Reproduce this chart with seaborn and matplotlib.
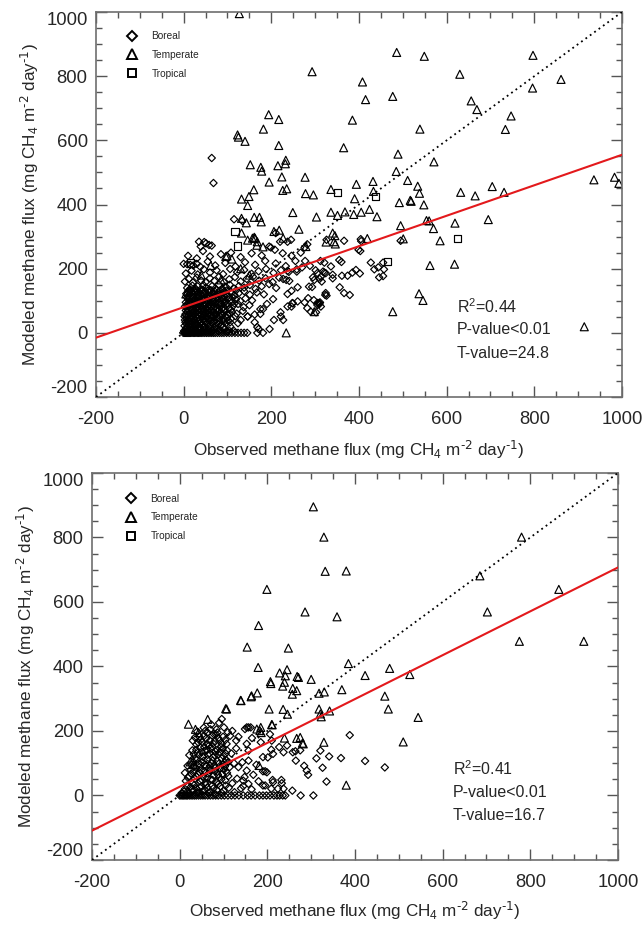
import numpy as np
import pandas as pd
import matplotlib
matplotlib.use("Agg")
import matplotlib.pyplot as plt
import seaborn as sns
from matplotlib.ticker import MultipleLocator
from matplotlib.lines import Line2D

sns.set_theme(style="white")
plt.rcParams["font.family"] = ["Liberation Sans", "DejaVu Sans"]
plt.rcParams["mathtext.default"] = "regular"
plt.rcParams["axes.unicode_minus"] = False

# ---------------- data (observed, modeled) ----------------
# Top panel
top_boreal = [
    # zero row
    (-1, 0), (2, 0), (4, 0), (6, 0), (8, 0), (10, 0), (12, 0), (14, 0), (16, 0), (19, 0), (22, 0), (25, 0),
    (28, 0), (31, 0), (34, 0), (37, 0), (40, 0), (44, 0), (48, 0), (52, 0), (56, 0), (60, 0), (64, 0),
    (68, 0), (72, 0), (77, 0), (82, 0), (87, 0), (92, 0), (98, 0), (104, 0), (110, 0), (117, 0), (124, 0),
    (131, 0), (138, 0), (145, 0), (168, 0), (181, 0),
    (1, 6), (5, 12), (9, 8), (13, 14), (18, 9), (23, 13), (28, 7), (33, 11), (38, 15), (44, 9), (50, 13),
    (56, 8), (62, 12), (69, 10), (76, 14), (84, 9), (93, 12), (103, 8), (115, 6),
    (3, 3), (7, 17), (11, 5), (16, 19), (21, 4), (26, 17), (31, 5), (36, 19), (41, 4), (46, 16), (51, 5),
    (57, 18), (63, 4), (70, 17), (80, 5), (90, 18), (99, 4),
    (2, 22), (6, 28), (11, 24), (15, 30), (20, 21), (25, 27), (30, 23), (35, 29), (41, 25), (47, 20),
    (53, 28), (59, 24), (65, 30), (72, 22), (79, 27), (87, 25), (96, 29), (106, 33), (124, 30), (106, 20),
    (4, 33), (9, 38), (14, 27), (19, 34), (24, 43), (29, 31), (34, 36), (39, 33), (45, 43), (50, 35),
    (55, 33), (61, 37), (67, 35), (74, 32), (82, 37), (92, 34), (101, 38),
    (3, 40), (7, 47), (12, 36), (16, 44), (21, 49), (26, 38), (31, 45), (36, 41), (42, 50), (47, 37),
    (52, 46), (58, 42), (64, 48), (70, 39), (77, 45), (84, 50), (91, 41), (99, 47), (108, 44), (118, 52),
    (130, 40),
    (2, 51), (6, 53), (11, 55), (17, 52), (22, 62), (27, 52), (33, 56), (37, 63), (42, 58), (47, 54),
    (53, 52), (57, 62), (63, 55), (69, 52), (75, 58), (81, 54), (88, 57), (96, 52), (105, 59),
    (4, 58), (9, 65), (14, 60), (18, 68), (23, 55), (28, 63), (33, 70), (38, 57), (44, 66), (49, 61),
    (55, 69), (60, 56), (66, 64), (72, 58), (78, 67), (85, 62), (92, 70), (100, 56), (110, 65), (121, 60),
    (135, 68), (146, 51), (162, 57),
    (5, 70), (10, 72), (16, 74), (20, 73), (25, 70), (30, 78), (35, 74), (41, 72), (46, 73), (52, 75),
    (57, 86), (62, 70), (68, 76), (74, 72), (80, 70), (87, 74), (94, 75), (108, 72),
    (3, 82), (8, 77), (13, 88), (17, 80), (22, 86), (27, 76), (32, 84), (37, 90), (43, 78), (48, 87),
    (54, 81), (59, 75), (65, 89), (71, 83), (77, 77), (83, 88), (90, 80), (97, 86), (104, 76), (113, 84),
    (124, 90), (137, 80), (150, 86), (175, 74),
    (7, 88), (12, 92), (18, 92), (24, 89), (29, 92), (34, 94), (39, 84), (45, 91), (50, 92), (56, 93),
    (62, 84), (67, 96), (73, 92), (79, 88), (86, 92), (93, 93), (100, 92), (116, 92),
    (5, 95), (10, 103), (15, 98), (20, 107), (25, 94), (30, 101), (35, 109), (40, 96), (46, 104), (51, 99),
    (57, 108), (63, 95), (69, 103), (75, 110), (81, 97), (88, 105), (95, 100), (102, 108), (110, 96),
    (119, 104), (129, 99), (141, 107), (156, 101), (190, 90), (204, 105),
    (8, 110), (13, 109), (19, 113), (24, 110), (30, 112), (36, 103), (42, 112), (48, 110), (54, 112),
    (60, 114), (66, 109), (72, 115), (79, 112), (86, 110), (93, 113), (100, 114), (112, 110),
    (6, 122), (11, 116), (17, 127), (22, 119), (28, 125), (34, 116), (40, 129), (46, 121), (52, 115),
    (58, 126), (64, 118), (70, 130), (77, 122), (84, 116), (91, 127), (99, 120), (107, 129), (116, 117),
    (126, 124), (138, 130), (151, 119), (167, 126), (183, 120),
    (10, 130), (16, 133), (23, 131), (30, 132), (36, 126), (43, 134), (49, 130), (55, 131), (62, 133),
    (68, 124), (75, 133), (82, 131), (90, 134), (98, 132), (110, 125), (120, 133),
    (8, 140), (14, 136), (20, 147), (26, 139), (32, 145), (39, 136), (45, 149), (51, 141), (58, 135),
    (65, 146), (72, 139), (80, 150), (88, 137), (96, 144), (105, 150), (115, 138), (126, 146), (138, 141),
    (151, 149), (164, 137), (178, 145), (195, 152), (211, 140),
    (3, 160), (12, 168), (21, 157), (30, 172), (40, 163), (50, 158), (60, 170), (70, 162), (81, 175),
    (92, 158), (104, 167), (117, 174), (130, 160), (144, 168), (158, 175), (172, 163), (187, 170),
    (203, 158), (218, 172), (234, 165),
    (5, 185), (18, 194), (32, 182), (46, 198), (60, 188), (75, 195), (90, 183), (106, 199), (122, 189),
    (138, 196), (155, 184), (171, 192), (188, 199), (205, 187), (222, 195), (240, 190), (258, 198),
    (0, 215), (8, 214), (15, 212), (22, 210), (30, 215), (38, 206), (55, 222), (72, 210), (95, 218),
    (118, 207), (140, 220), (163, 212), (186, 224), (210, 216), (233, 208), (255, 224), (277, 224),
    (10, 240), (30, 232), (44, 255), (60, 238), (85, 245), (108, 250), (130, 236), (155, 248), (178, 241),
    (199, 266), (226, 248), (246, 240), (267, 250),
    (35, 284), (39, 269), (47, 283), (51, 279), (58, 274), (64, 272), (115, 354), (134, 349), (195, 269),
    (208, 259), (210, 311), (220, 284), (237, 284), (245, 290), (276, 266), (282, 276),
    (64, 545), (68, 467),
    (221, 64), (227, 40), (246, 82), (249, 92), (276, 95), (282, 77), (284, 108), (297, 102), (305, 87),
    (311, 95), (293, 143), (295, 173), (310, 168), (301, 195), (326, 116), (321, 188), (312, 224),
    (196, 12), (171, 12), (168, 18), (162, 33), (175, 59), (181, 74), (222, 51), (206, 40), (146, 51),
    (237, 121), (246, 131), (260, 142), (241, 162), (227, 168), (237, 193), (258, 191), (270, 204),
    (288, 209), (286, 144), (298, 165), (313, 175), (324, 186), (336, 207), (305, 186), (324, 124),
    (305, 93), (290, 66), (237, 82), (248, 93), (260, 98), (302, 64), (310, 90),
    (326, 290), (366, 287), (404, 292), (399, 259), (355, 227), (321, 219), (318, 191), (340, 181),
    (340, 170), (315, 160), (361, 178), (374, 178), (385, 188), (393, 196), (402, 185), (427, 219),
    (435, 198), (444, 204), (455, 219), (457, 198), (446, 173), (455, 177), (356, 142), (366, 124),
    (379, 118), (323, 118), (309, 93), (313, 82), (495, 287), (405, 286), (403, 255), (360, 221),
]
top_temperate = [
    (127, 995), (486, 874), (549, 862), (797, 865), (293, 814), (630, 806), (408, 782), (861, 790),
    (415, 727), (477, 737), (796, 763), (656, 723), (669, 696), (747, 676), (385, 663), (194, 680),
    (217, 665), (539, 635), (734, 634), (182, 635), (123, 617), (125, 610), (140, 597), (217, 584),
    (365, 577), (489, 557), (571, 533), (152, 524), (176, 516), (178, 504), (215, 521), (233, 538),
    (232, 527), (224, 486), (485, 503), (277, 485), (195, 470), (511, 475), (432, 472), (394, 463),
    (160, 446), (235, 449), (226, 444), (278, 434), (296, 430), (336, 447), (534, 457),
    (538, 435), (632, 438), (665, 427), (704, 456), (731, 438), (936, 477), (983, 485), (993, 466),
    (433, 441), (390, 418), (492, 406), (517, 413), (519, 410), (548, 399), (132, 417), (149, 425),
    (146, 397), (161, 360), (173, 360), (143, 343), (132, 357), (177, 346), (249, 375), (336, 376),
    (303, 361), (351, 366), (368, 377), (405, 376), (424, 385), (441, 362), (388, 369), (560, 349),
    (570, 325), (619, 342), (695, 353), (495, 334), (585, 287), (419, 294), (501, 293), (263, 323),
    (218, 320), (227, 295), (345, 303), (325, 283), (346, 277), (132, 311), (161, 298), (163, 295),
    (146, 289), (167, 273), (181, 268), (279, 269), (562, 210), (618, 214), (537, 122), (546, 101),
    (477, 66), (914, 19), (234, 0), (99, 240), (5, 121), (14, 93), (9, 129), (24, 134), (96, 238),
    (157, 295), (168, 284), (206, 316), (340, 311), (343, 284), (298, 66), (110, 230), (62, 210),
    (40, 180), (130, 200), (85, 165), (150, 180), (554, 350),
]
top_tropical = [(117, 315), (123, 271), (351, 438), (438, 425), (465, 222), (625, 295), (15, 218)]

# Bottom panel
bottom_boreal = [
    (0, 0), (3, 0), (6, 0), (9, 0), (12, 0), (15, 0), (18, 0), (22, 0), (26, 0), (30, 0), (34, 0), (38, 0),
    (43, 0), (48, 0), (53, 0), (58, 0), (64, 0), (70, 0), (76, 0), (82, 0), (88, 0), (95, 0), (102, 0),
    (110, 0), (118, 0), (126, 0), (135, 0), (145, 0), (155, 0), (163, 0), (172, 0), (182, 0), (190, 0),
    (198, 0), (206, 0), (215, 0), (222, 0), (228, 0), (235, 0), (241, 0), (276, 0), (305, 0),
    (5, 8), (12, 20), (18, 12), (25, 26), (31, 15), (38, 22), (44, 9), (50, 28), (57, 18), (63, 25),
    (70, 11), (77, 22), (85, 17), (93, 28), (100, 14), (112, 24), (125, 10), (140, 22), (164, 19),
    (157, 36), (145, 29),
    (10, 12), (16, 30), (21, 5), (28, 18), (33, 32), (40, 10), (46, 25), (52, 12), (60, 33), (66, 8),
    (74, 30), (81, 5), (88, 35), (96, 8), (105, 31),
    (14, 45), (22, 60), (29, 38), (35, 52), (41, 66), (47, 44), (53, 58), (59, 40), (65, 68), (71, 50),
    (78, 62), (84, 42), (90, 56), (97, 66), (104, 47), (111, 60), (120, 38), (131, 52), (145, 46),
    (148, 57), (168, 64), (180, 44), (212, 48), (209, 21), (213, 41), (195, 31), (190, 31), (224, 21),
    (232, 48), (233, 38), (237, 21),
    (12, 70), (19, 55), (26, 68), (33, 75), (39, 58), (45, 72), (51, 48), (57, 75), (63, 55), (69, 78),
    (75, 48), (81, 75), (87, 65), (95, 50), (101, 80), (108, 70),
    (18, 92), (25, 80), (31, 104), (37, 86), (43, 98), (49, 78), (55, 108), (61, 90), (67, 82), (73, 100),
    (79, 94), (86, 106), (92, 84), (99, 96), (106, 110), (114, 88), (124, 100), (134, 88), (143, 103),
    (153, 77), (157, 108), (175, 95), (195, 75), (199, 72), (190, 75), (201, 118),
    (27, 95), (33, 90), (39, 110), (45, 88), (51, 102), (57, 95), (63, 112), (69, 92), (75, 108), (81, 85),
    (89, 98), (96, 115), (103, 90), (111, 104),
    (22, 125), (29, 140), (35, 115), (41, 132), (47, 148), (53, 120), (58, 138), (64, 126), (70, 145),
    (76, 118), (82, 136), (88, 128), (94, 150), (100, 122), (108, 140), (118, 130), (129, 146), (157, 139),
    (190, 119), (213, 129), (209, 142), (227, 150), (237, 134), (265, 108), (258, 134), (264, 137),
    (32, 128), (38, 142), (44, 125), (50, 135), (56, 150), (62, 140), (68, 130), (74, 152), (80, 125),
    (86, 142), (92, 135), (98, 145), (105, 130),
    (30, 170), (38, 158), (45, 182), (52, 165), (60, 176), (67, 155), (74, 186), (81, 168), (88, 178),
    (96, 160), (104, 172), (115, 185), (129, 170), (134, 182), (153, 160), (165, 178), (185, 165),
    (206, 190),
    (35, 180), (42, 165), (48, 172), (56, 185), (62, 160), (69, 170), (76, 162), (83, 190), (91, 170),
    (99, 182), (107, 160), (58, 200), (70, 205), (86, 195),
    (40, 198), (55, 210), (64, 195), (72, 220), (84, 205), (96, 237), (101, 211), (110, 196), (153, 211),
    (162, 211), (120, 200), (78, 190), (90, 225), (149, 206), (157, 211),
    (388, 187), (423, 107), (468, 87), (368, 116), (341, 121), (321, 139), (312, 115), (326, 86),
    (335, 43), (284, 92), (293, 64), (290, 77), (257, 15), (210, 170), (245, 155), (275, 140),
]
bottom_temperate = [
    (305, 895), (329, 801), (780, 801), (332, 695), (380, 696), (685, 681), (199, 639), (865, 639),
    (286, 569), (702, 569), (359, 554), (180, 527), (154, 460), (248, 457), (775, 478), (922, 478),
    (179, 397), (385, 409), (479, 394), (423, 372), (525, 375), (245, 390), (228, 380), (241, 371),
    (207, 353), (208, 347), (268, 369), (271, 366), (235, 339), (239, 351), (258, 332), (267, 325),
    (257, 314), (300, 360), (139, 295), (163, 306), (177, 318), (330, 321), (318, 317), (370, 328),
    (468, 308), (204, 268), (236, 267), (318, 268), (321, 253), (323, 244), (342, 262), (476, 268),
    (544, 242), (246, 252), (185, 211), (186, 195), (211, 219), (239, 178), (267, 177), (280, 162),
    (329, 165), (510, 166), (380, 32), (105, 269), (64, 236), (20, 221), (36, 205), (43, 195),
    (24, 104), (31, 96), (181, 93), (107, 268), (164, 309), (140, 294), (102, 108), (96, 88),
    (176, 206), (183, 201), (210, 220), (275, 180), (282, 160),
]
bottom_tropical = []

fit_top = (80, 0.475)      # intercept, slope
fit_bottom = (27, 0.68)
stats_top = ["R$^2$=0.44", "P-value<0.01", "T-value=24.8"]
stats_bottom = ["R$^2$=0.41", "P-value<0.01", "T-value=16.7"]
biomes = ["Boreal", "Temperate", "Tropical"]
tick_values = [-200, 0, 200, 400, 600, 800, 1000]

markers = {"Boreal": "D", "Temperate": "^", "Tropical": "s"}
sizes = {"Boreal": 14, "Temperate": 33, "Tropical": 28}

fig = plt.figure(figsize=(6.43, 9.25), dpi=100)
ax1 = fig.add_axes([0.1493, 0.5708, 0.818, 0.4162])
ax2 = fig.add_axes([0.1431, 0.0703, 0.818, 0.4184])

spine_col = "#6e6e6e"
unit = " (mg CH$_4$ m$^{\\text{-2}}$ day$^{\\text{-1}}$)"


def draw(ax, groups, fit, stats, leg_anchor, xpad):
    for biome in biomes:
        pts = groups[biome]
        if len(pts) == 0:
            continue
        df = pd.DataFrame(pts, columns=["obs", "mod"])
        sns.scatterplot(data=df, x="obs", y="mod", marker=markers[biome], s=sizes[biome],
                        facecolor="none", edgecolor="black", linewidth=0.85, ax=ax, zorder=2)
    ax.axline((0, 0), slope=1, color="black", lw=1.3, ls=(0, (1, 2)), zorder=3)
    ax.axline((0, fit[0]), slope=fit[1], color="#e3191c", lw=1.5, zorder=4)
    ax.set_xlim(-200, 1000)
    ax.set_ylim(-200, 1000)
    ax.xaxis.set_minor_locator(MultipleLocator(50))
    ax.yaxis.set_minor_locator(MultipleLocator(50))
    ax.set_xticks(tick_values)
    ax.set_yticks(tick_values)
    ax.set_xticklabels([str(v) for v in tick_values])
    ax.set_yticklabels([str(v) for v in tick_values])
    ax.tick_params(which="both", direction="in", top=True, right=True, bottom=True, left=True,
                   color="#555555", width=1.0)
    ax.tick_params(which="major", length=8, labelsize=13.3)
    ax.tick_params(which="minor", length=4)
    ax.tick_params(axis="x", which="major", pad=10)
    ax.tick_params(axis="y", which="major", pad=6)
    ylabs = ax.get_yticklabels()
    ylabs[0].set_va("bottom")
    ylabs[-1].set_va("top")
    for sp in ax.spines.values():
        sp.set_color(spine_col)
        sp.set_linewidth(1.2)
    ax.set_xlabel("Observed methane flux" + unit, fontsize=12.3, labelpad=xpad)
    ax.set_ylabel("Modeled methane flux" + unit, fontsize=12.3, labelpad=4)
    for i, s in enumerate(stats):
        ax.text(0.686, 0.236 - 0.061 * i, s, transform=ax.transAxes, fontsize=11.5,
                ha="left", va="center")
    handles = [Line2D([], [], ls="", marker=markers[b], mfc="none", mec="black", mew=1.4,
                      ms={"Boreal": 5, "Temperate": 6.5, "Tropical": 6}[b]) for b in biomes]
    ax.legend(handles, biomes, loc="upper left", bbox_to_anchor=leg_anchor, frameon=False,
              fontsize=7.3, handlelength=1.0, handletextpad=1.4, labelspacing=0.85,
              borderpad=0, borderaxespad=0)


draw(ax1, {"Boreal": top_boreal, "Temperate": top_temperate, "Tropical": top_tropical},
     fit_top, stats_top, (0.059, 0.950), 8)
draw(ax2, {"Boreal": bottom_boreal, "Temperate": bottom_temperate, "Tropical": bottom_tropical},
     fit_bottom, stats_bottom, (0.065, 0.946), 6)

fig.savefig("out.png", dpi=100)
